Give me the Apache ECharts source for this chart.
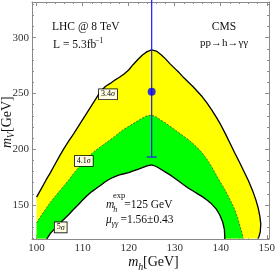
<!DOCTYPE html>
<html><head><meta charset="utf-8">
<script src="https://cdn.jsdelivr.net/npm/echarts@6/dist/echarts.min.js"></script>
<style>html,body{margin:0;padding:0;background:#fff}#c{width:278px;height:271px}</style>
</head><body><div id="c"></div>
<script>
// ---- data (m_h [GeV], m_V [GeV]) ----
const outerCurve3p4 = [[100,157],[101,164.5],[102,172],[103,179],[104,186.5],[105,194],[106,201],[107,207.5],[108,213.5],[109,220],[110,226.5],[111,233],[112,239.5],[113,246],[114,252.5],[115,256.5],[116,259],[117,262],[118,264.5],[119,267.5],[120,271],[121,276],[122,280.5],[123,284.5],[124,287.5],[125,289],[126,288],[127,285],[128,281],[129,276.5],[130,272.5],[131,268.5],[132,264],[133,260],[134,256],[135,251.5],[136,247],[137,241.5],[138,235.5],[139,229],[140,222],[141,214],[142,205.5],[143,197],[144,189],[145,180.5],[146,172],[147,162],[147.6,155],[148.1,148],[148.5,140],[148.7,133],[148.6,126],[148.3,121.5],[148.1,120]];
const dashedCurve4p1 = [[100,134],[101,140.5],[102,146.5],[103,152.5],[104,157.5],[105,162.5],[106,167.5],[107,172.5],[108,178],[109,183],[110,188],[111,192.5],[112,196],[113,199.5],[114,202.5],[115,205.5],[116,208.5],[117,211.5],[118,215],[119,218],[120,220.5],[121,223],[122,225.5],[123,228],[124,230],[125,230.5],[126,229],[127,226],[128,223.5],[129,220.5],[130,217.5],[131,214.5],[132,211.5],[133,208.5],[134,205],[135,201],[136,196.5],[137,191],[138,184.5],[139,177],[140,170],[141,163],[142,155],[143,146.5],[143.7,138],[144.2,131],[144.6,125],[144.9,120]];
const innerCurve5 = [[102.2,119.5],[103,124.5],[104,129],[105,133.5],[106,137.5],[107,141.5],[108,146],[109,150],[110,154.5],[111,158.5],[112,162],[113,165],[114,168],[115,171],[116,173.5],[117,175.5],[118,177],[119,178],[120,179],[121,180.5],[122,182],[123,183.5],[124,185],[125,186],[126,184.5],[127,182],[128,179.5],[129,177],[130,174],[131,171],[132,168],[133,165],[134,162.5],[135,160],[136,157.5],[137,154.5],[138,151],[139,146.5],[139.8,141],[140.4,135],[140.8,128],[140.9,119.5]];
const regionFloor = [[100,120]];
const higgsMass = 125;
const mVCentral = 251.6;
const mVLow = 193;
const mVHigh = 334;
const xMajorTicks = [100,110,120,130,140,150];
const xMinorTicks = [102,104,106,108,112,114,116,118,122,124,126,128,132,134,136,138,142,144,146,148];
const yMajorTicks = [150,200,250,300];
const yMinorTicks = [120,130,140,160,170,180,190,210,220,230,240,260,270,280,290,310,320,330];

const FONT = "'Liberation Serif','Times New Roman',serif";
const frameColor = '#8a8a8a';
const X_MIN = 99, X_MAX = 150.5, Y_MIN = 119.5, Y_MAX = 332;

function ax(dim, pos, values, len, showLabel, showLine) {
  return {
    type: 'value', position: pos, min: dim === 'x' ? X_MIN : Y_MIN, max: dim === 'x' ? X_MAX : Y_MAX,
    axisLine: {show: showLine, onZero: false, lineStyle: {color: frameColor, width: 1}},
    axisTick: {show: true, inside: true, length: len, customValues: values, lineStyle: {color: frameColor, width: 1}},
    axisLabel: {show: showLabel, customValues: values, fontFamily: FONT, fontSize: 11, color: '#333', margin: dim === 'x' ? 4 : 3},
    splitLine: {show: false}, minorTick: {show: false}
  };
}

function polygonSeries(points, color, z) {
  return {
    type: 'custom', coordinateSystem: 'cartesian2d', silent: true, z: z, data: [[0, 0]],
    renderItem: function (params, api) {
      return {type: 'polygon', shape: {points: points.map(p => api.coord(p))}, style: {fill: color, stroke: null}};
    }
  };
}
function lineSeries(points, style, z) {
  return {type: 'line', data: points, showSymbol: false, silent: true, z: z, lineStyle: style, animation: false};
}

function txt(x, y, s, size, opts) {
  return {type: 'text', x: x, y: y, z: 100, silent: true,
    style: {text: s, font: (opts && opts.italic ? 'italic ' : '') + size + 'px ' + FONT, fill: '#111',
      align: (opts && opts.align) || 'left', verticalAlign: 'middle'}};
}
function sigmaBox(x, y, num) {
  return {type: 'text', x: x, y: y, silent: true, z: 100,
    style: {text: '{n|' + num + '}{s|σ}', align: 'center', verticalAlign: 'middle',
      backgroundColor: '#fffde2', borderColor: '#000', borderWidth: 0.8, padding: [1, 2, 1, 2],
      rich: {n: {fontFamily: FONT, fontSize: 8, lineHeight: 8, fill: '#000'}, s: {fontFamily: FONT, fontSize: 8, fontStyle: 'italic', lineHeight: 8, fill: '#000'}}}};
}

const chart = echarts.init(document.getElementById('c'), null, {renderer: 'canvas'});
chart.setOption({
  animation: false,
  backgroundColor: '#fff',
  grid: {left: 32, right: 5, top: 2, bottom: 32, containLabel: false},
  xAxis: [ax('x', 'bottom', xMajorTicks, 4, true, true), ax('x', 'bottom', xMinorTicks, 2, false, false),
          ax('x', 'top', xMajorTicks, 4, false, true), ax('x', 'top', xMinorTicks, 2, false, false)],
  yAxis: [ax('y', 'left', yMajorTicks, 4, true, true), ax('y', 'left', yMinorTicks, 2, false, false),
          ax('y', 'right', yMajorTicks, 4, false, true), ax('y', 'right', yMinorTicks, 2, false, false)],
  series: [
    polygonSeries(outerCurve3p4.concat(regionFloor), '#ffff00', 1),
    polygonSeries(dashedCurve4p1.concat(regionFloor), '#00ff00', 2),
    polygonSeries(innerCurve5, '#ffffff', 3),
    lineSeries(outerCurve3p4, {color: '#000', width: 1.3}, 5),
    lineSeries(dashedCurve4p1, {color: '#333', width: 0.7, type: [2, 1.5]}, 5),
    lineSeries(innerCurve5, {color: '#000', width: 1.3}, 5),
    {type: 'custom', coordinateSystem: 'cartesian2d', silent: true, z: 8, clip: false, data: [[higgsMass, mVLow, mVHigh]],
      renderItem: function (params, api) {
        const top = api.coord([api.value(0), api.value(2)]);
        const bot = api.coord([api.value(0), api.value(1)]);
        const st = {stroke: '#1a1aff', lineWidth: 1.2};
        return {type: 'group', children: [
          {type: 'line', shape: {x1: top[0], y1: top[1], x2: bot[0], y2: bot[1]}, style: st},
          {type: 'line', shape: {x1: bot[0] - 5, y1: bot[1], x2: bot[0] + 5, y2: bot[1]}, style: st}]};
      }},
    {type: 'scatter', data: [[higgsMass, mVCentral]], symbolSize: 8, itemStyle: {color: '#0000ff'}, z: 9, silent: true}
  ],
  graphic: [
    txt(52, 26.8, 'LHC @ 8 TeV', 11.5),
    txt(53, 45, 'L = 5.3fb', 11.5),
    txt(95, 40.5, '−1', 8),
    txt(224, 27, 'CMS', 11.5, {align: 'center'}),
    txt(224, 43.5, 'pp→h→γγ', 11, {align: 'center'}),
    sigmaBox(108, 94.3, '3.4'),
    sigmaBox(83.8, 161, '4.1'),
    sigmaBox(60.7, 227.4, '5'),
    txt(106, 205.3, 'm', 11.5, {italic: true}),
    txt(113, 195.3, 'exp', 8.5),
    txt(113.3, 209.8, 'h', 8, {italic: true}),
    txt(124.2, 205.3, '=125 GeV', 11.5),
    txt(106, 219.5, 'μ', 11.5, {italic: true}),
    txt(111.8, 223.5, 'γγ', 8, {italic: true}),
    txt(120.5, 219.5, '=1.56±0.43', 11.5),
    txt(128.3, 262.8, 'm', 14, {italic: true}),
    txt(138.3, 267, 'h', 10, {italic: true}),
    txt(143, 262.8, '[GeV]', 14),
    {type: 'group', x: 12, y: 148, rotation: Math.PI / 2, silent: true, z: 100, children: [
      txt(0, -4.6, 'm', 14, {italic: true}),
      txt(9.8, -0.5, 'V', 10, {italic: true}),
      txt(16, -4.6, '[GeV]', 14)
    ]}
  ]
});
</script></body></html>
